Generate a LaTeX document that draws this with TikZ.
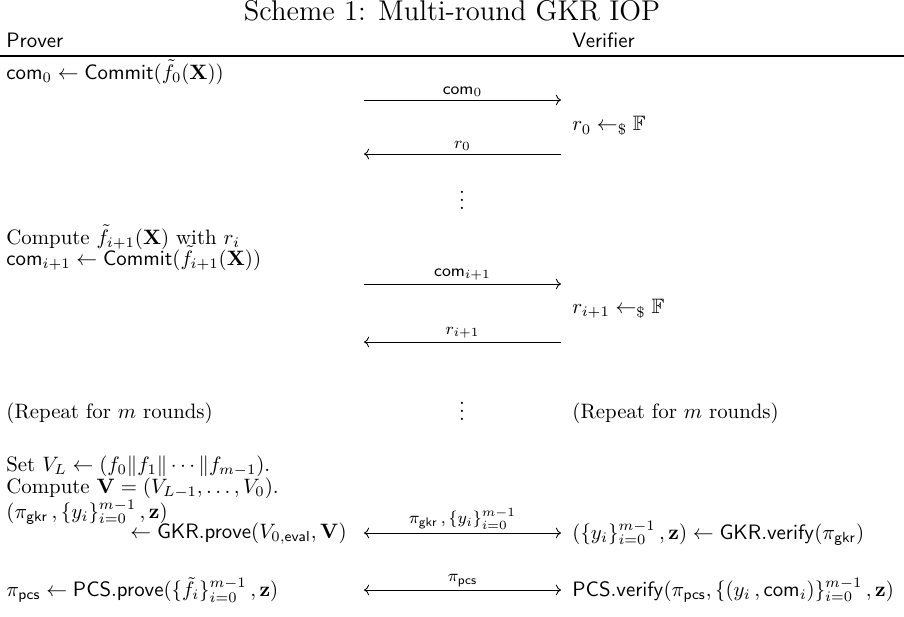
\documentclass[tikz,border=0pt]{standalone}
\usepackage{amsmath,amssymb}
\usetikzlibrary{arrows.meta}
\begin{document}
\begin{tikzpicture}[x=0.48pt,y=-0.48pt,
  lt/.style={anchor=west,inner sep=0pt},
  msg/.style={line width=0.4pt},
  lbl/.style={midway,above,inner sep=1.5pt,font=\footnotesize}]
\useasboundingbox (0,0) rectangle (904,617);
% header
\node[inner sep=0pt] (title) at (452,11) {\fontsize{13.7pt}{16pt}\selectfont Scheme 1: Multi-round GKR IOP};
\node[lt] (prover) at (6,40) {\textsf{Prover}};
\node[lt] (verifier) at (572,40) {\textsf{Verifier}};
\coordinate (rl) at (0,56); \coordinate (rr) at (904,56);
\draw[line width=0.5pt] (rl) -- (rr);
% round 0
\node[lt] (com0) at (6,72) {$\mathsf{com}_0 \leftarrow \mathsf{Commit}(\tilde{f}_0(\mathbf{X}))$};
\coordinate (a1l) at (364,100); \coordinate (a1r) at (561,100);
\draw[msg,->] (a1l) -- node[lbl] {$\mathsf{com}_0$} (a1r);
\node[lt] (r0) at (572,126) {$r_0 \leftarrow_{\$} \mathbb{F}$};
\coordinate (a2l) at (364,154); \coordinate (a2r) at (561,154);
\draw[msg,<-] (a2l) -- node[lbl] {$r_0$} (a2r);
\node[inner sep=0pt] (vd1) at (462,194) {$\vdots$};
% round i+1
\node[lt] (comp) at (6,237) {Compute $\tilde{f}_{i+1}(\mathbf{X})$ with $r_i$};
\node[lt] (comi) at (6,258) {$\mathsf{com}_{i+1} \leftarrow \mathsf{Commit}(\tilde{f}_{i+1}(\mathbf{X}))$};
\coordinate (a3l) at (364,284); \coordinate (a3r) at (561,284);
\draw[msg,->] (a3l) -- node[lbl] {$\mathsf{com}_{i+1}$} (a3r);
\node[lt] (ri) at (572,309) {$r_{i+1} \leftarrow_{\$} \mathbb{F}$};
\coordinate (a4l) at (364,342); \coordinate (a4r) at (561,342);
\draw[msg,<-] (a4l) -- node[lbl] {$r_{i+1}$} (a4r);
\node[inner sep=0pt] (vd2) at (462,405) {$\vdots$};
\node[lt] (repL) at (6,413) {(Repeat for $m$ rounds)};
\node[lt] (repR) at (572,413) {(Repeat for $m$ rounds)};
% GKR
\node[lt] (setv) at (6,466) {Set $V_L \leftarrow (f_0\|f_1\|\cdots\|f_{m-1})$.};
\node[lt] (compv) at (6,488) {Compute $\mathbf{V}=(V_{L-1},\ldots,V_0)$.};
\node[lt] (pig) at (6,512) {$(\pi_{\mathsf{gkr}}\,,\{y_i\}_{i=0}^{m-1}\,,\mathbf{z})$};
\node[lt] (gkrp) at (130,534) {$\leftarrow \mathsf{GKR.prove}(V_{0,\mathsf{eval}},\mathbf{V})$};
\coordinate (a5l) at (364,533); \coordinate (a5r) at (561,533);
\draw[msg,<->] (a5l) -- node[lbl] {$\pi_{\mathsf{gkr}}\,,\{y_i\}_{i=0}^{m-1}$} (a5r);
\node[lt] (gkrv) at (572,533) {$(\{y_i\}_{i=0}^{m-1}\,,\mathbf{z}) \leftarrow \mathsf{GKR.verify}(\pi_{\mathsf{gkr}})$};
% PCS
\node[lt] (pcsp) at (6,590) {$\pi_{\mathsf{pcs}} \leftarrow \mathsf{PCS.prove}(\{\tilde{f}_i\}_{i=0}^{m-1}\,,\mathbf{z})$};
\coordinate (a6l) at (364,590); \coordinate (a6r) at (561,590);
\draw[msg,<->] (a6l) -- node[lbl] {$\pi_{\mathsf{pcs}}$} (a6r);
\node[lt] (pcsv) at (572,590) {$\mathsf{PCS.verify}(\pi_{\mathsf{pcs}},\{(y_i\,,\mathsf{com}_i)\}_{i=0}^{m-1}\,,\mathbf{z})$};
\end{tikzpicture}
\end{document}
